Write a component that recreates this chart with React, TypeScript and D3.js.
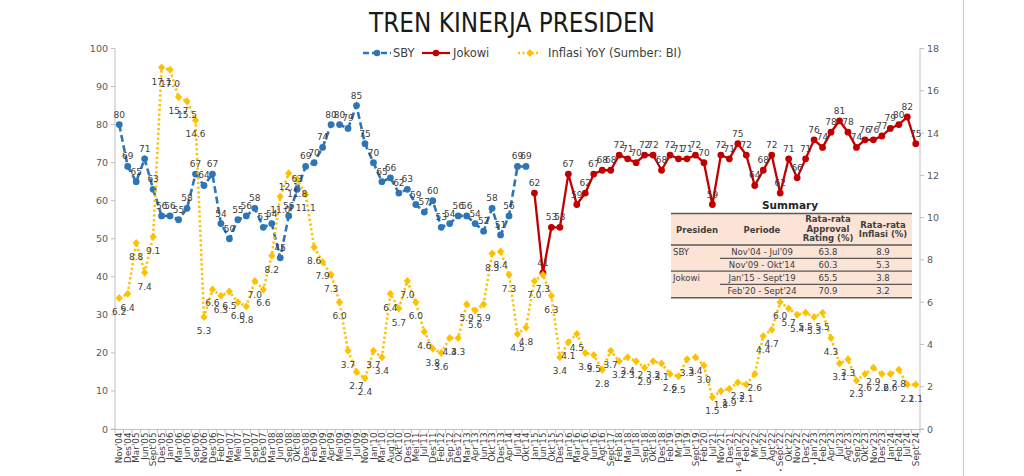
import React from 'react';
import * as d3 from 'd3';

const categories = [
  "Nov'04", "Des'04", "Mar'05", "Jun'05", "Sept'05", "Des'05", "Jan'06", "Mar'06", "Jun'06", "Sep'06",
  "Nov'06", "Des'06", "Feb'07", "Mar'07", "Mei'07", "Jun'07", "Sep'07", "Des'07", "Mar'08", "Jun'08",
  "Sep'08", "Okt'08", "Des'08", "Feb'09", "Mar'09", "Apr'09", "Mei'09", "Jun'09", "Jul'09", "Nov'09",
  "Jan'10", "Mar'10", "Aug'10", "Okt'10", "Des'10", "Mei'11", "Jul'11", "Des'11", "Feb'12", "Sep'12",
  "Des'12", "Mar'13", "Apr'13", "Jun'13", "Okt'13", "Des'13", "Apr'14", "Jul'14", "Okt'14", "Jan'15",
  "Jun'15", "Okt'15", "Des'15", "Jan'16", "Mar'16", "Apr'16", "Jun'16", "Agt'16", "Sept'17", "Feb'18",
  "Mar'18", "Jul'18", "Sep'18", "Okt'18", "Des'18", "Feb'19", "Mr'19", "Jul'19", "Sept'19", "Feb'20",
  "Jul'21", "Nov'21", "Des'21", "1-6 Jan'22", "Feb'22", "Mr'22", "Jun'22", "Agt'22", "• Sept'22", "Okt'22",
  "Nov'22", "Des'22", "• Jan'23", "Feb'23", "Apr'23", "Jul'23", "Agt'23", "Sep'23", "Okt'23", "Nov'23",
  "Des'23", "Jan'24", "Feb'24", "Jul'24", "Sept'24"
];

// SBY approval: Nov'04 .. Okt'14
const sbyApproval = [
  80, 69, 65, 71, 63, 56, 56, 55, 58, 67,
  64, 67, 54, 50, 55, 56, 58, 53, 54, 45,
  56, 63, 69, 70, 74, 80, 80, 79, 85, 75,
  70, 65, 66, 62, 63, 59, 57, 60, 53, 54,
  56, 56, 54, 52, 58, 51, 56, 69, 69
];

// Jokowi approval: Jan'15 .. Sept'24
const jokowiApproval = [
  62, 41, 53, 53, 67, 59, 62, 67, 68, 68,
  72, 71, 70, 72, 72, 68, 72, 71, 71, 72,
  70, 59, 72, 71, 75, 72, 64, 68, 72, 62,
  71, 66, 71, 76, 74, 78, 81, 78, 74, 76,
  76, 77, 79, 80, 82, 75
];

// Inflation YoY (%), all categories
const inflation = [
  6.2, 6.4, 8.8, 7.4, 9.1, 17.1, 17.0, 15.7, 15.5, 14.6,
  5.3, 6.6, 6.3, 6.5, 6.0, 5.8, 7.0, 6.6, 8.2, 11.0,
  12.1, 11.8, 11.1, 8.6, 7.9, 7.3, 6.0, 3.7, 2.7, 2.4,
  3.7, 3.4, 6.4, 5.7, 7.0, 6.0, 4.6, 3.8, 3.6, 4.3,
  4.3, 5.9, 5.6, 5.9, 8.3, 8.4, 7.3, 4.5, 4.8, 7.0,
  7.3, 6.3, 3.4, 4.1, 4.5, 3.6, 3.5, 2.8, 3.7, 3.2,
  3.4, 3.2, 2.9, 3.2, 3.1, 2.6, 2.5, 3.3, 3.4, 3.0,
  1.5, 1.8, 1.9, 2.2, 2.1, 2.6, 4.4, 4.7, 6.0, 5.7,
  5.4, 5.5, 5.3, 5.5, 4.3, 3.1, 3.3, 2.3, 2.6, 2.9,
  2.6, 2.6, 2.8, 2.1, 2.1
];

const leftTicks = [0, 10, 20, 30, 40, 50, 60, 70, 80, 90, 100];
const rightTicks = [0, 2, 4, 6, 8, 10, 12, 14, 16, 18];

const summaryHeaders = ["Presiden", "Periode", "Rata-rata|Approval|Rating (%)", "Rata-rata|Inflasi (%)"];
const summaryPresiden = ["SBY", "", "Jokowi", ""];
const summaryPeriode = ["Nov'04 - Jul'09", "Nov'09 - Okt'14", "Jan'15 - Sept'19", "Feb'20 - Sept'24"];
const summaryApproval = ["63.8", "60.3", "65.5", "70.9"];
const summaryInflasi = ["8.9", "5.3", "3.8", "3.2"];

const BLUE = '#2e75b6';
const RED = '#c00000';
const YELLOW = '#ffc000';
const LABEL = '#404040';
const AXIS = '#bfbfbf';
const FONT = '"DejaVu Sans", "Liberation Sans", sans-serif';

function XLabel({ text }: { text: string }) {
  const sp = text.indexOf(' ');
  if (sp < 0) return <>{text}</>;
  return (
    <>
      <tspan fontSize={6.5}>{text.slice(0, sp + 1)}</tspan>
      <tspan>{text.slice(sp + 1)}</tspan>
    </>
  );
}

export default function App() {
  const left = 115, right = 920, top = 48.5, bottom = 429;
  const x = d3.scaleBand<string>().domain(categories).range([left, right]).padding(0);
  const cx = (c: string) => (x(c) as number) + x.bandwidth() / 2;
  const yL = d3.scaleLinear().domain([0, 100]).range([bottom, top]);
  const yR = d3.scaleLinear().domain([0, 18]).range([bottom, top]);

  const sbyData = sbyApproval.map((v, i) => ({ c: categories[i], v }));
  const jokoData = jokowiApproval.map((v, i) => ({ c: categories[i + sbyApproval.length], v }));
  const infData = inflation.map((v, i) => ({ c: categories[i], v }));

  const lineL = d3.line<{ c: string; v: number }>().x(d => cx(d.c)).y(d => yL(d.v));
  const lineR = d3.line<{ c: string; v: number }>().x(d => cx(d.c)).y(d => yR(d.v));

  const diamond = 'M0,-4L3.6,0L0,4L-3.6,0Z';

  // table geometry
  const tL = 671, tR = 912, tTop = 213.5, tHead = 245;
  const rowLines = [245, 258.3, 271.2, 284.4, 297.7];
  const colX = [673, 762, 828, 883];

  return (
    <svg width={1024} height={476} style={{ position: 'absolute', left: 0, top: 0, background: '#fff' }}
      fontFamily={FONT}>
      <rect x={0} y={0} width={1024} height={476} fill="#fff" />
      <line x1={963.5} x2={963.5} y1={0} y2={476} stroke="#c8c8c8" strokeWidth={1} />

      {/* Title */}
      <text x={512} y={32} textAnchor="middle" fontSize={26} fill="#1a1a1a"
        textLength={286} lengthAdjust="spacingAndGlyphs">TREN KINERJA PRESIDEN</text>

      {/* Legend */}
      <g fontSize={11.5} fill={LABEL}>
        <line x1={363} x2={391} y1={53} y2={53} stroke={BLUE} strokeWidth={2.5} strokeDasharray="6,3" />
        <circle cx={377} cy={53} r={3.3} fill={BLUE} />
        <text x={393} y={57}>SBY</text>
        <line x1={422} x2={450} y1={53} y2={53} stroke={RED} strokeWidth={2.2} />
        <circle cx={436} cy={53} r={3.3} fill={RED} />
        <text x={453} y={57}>Jokowi</text>
        <line x1={518} x2={541} y1={53} y2={53} stroke={YELLOW} strokeWidth={2.5} strokeDasharray="2,2.5" />
        <path d={diamond} transform="translate(530,53)" fill={YELLOW} />
        <text x={548} y={57}>Inflasi YoY (Sumber: BI)</text>
      </g>

      {/* Axes */}
      <g stroke={AXIS} strokeWidth={1}>
        <line x1={left} x2={left} y1={top} y2={bottom} />
        <line x1={right} x2={right} y1={top} y2={bottom} />
        <line x1={left - 4} x2={right + 4} y1={bottom + 0.5} y2={bottom + 0.5} />
        {leftTicks.map(t => (
          <line key={'lt' + t} x1={left - 4} x2={left} y1={yL(t)} y2={yL(t)} />
        ))}
        {rightTicks.map(t => (
          <line key={'rt' + t} x1={right} x2={right + 4} y1={yR(t)} y2={yR(t)} />
        ))}
        {categories.map(c => (
          <line key={'xt' + c} x1={x(c) as number} x2={x(c) as number} y1={bottom} y2={bottom + 4} />
        ))}
        <line x1={right} x2={right} y1={bottom} y2={bottom + 4} />
      </g>
      <g fontSize={9.5} fill="#595959">
        {leftTicks.map(t => (
          <text key={'ll' + t} x={left - 7} y={yL(t) + 3.5} textAnchor="end">{t}</text>
        ))}
        {rightTicks.map(t => (
          <text key={'rl' + t} x={right + 7} y={yR(t) + 3.5} textAnchor="start">{t}</text>
        ))}
      </g>
      <g fontSize={8.8} fill={LABEL}>
        {categories.map(c => (
          <text key={'xl' + c} transform={`translate(${cx(c) + 3.2},${bottom + 3.5}) rotate(-90)`} textAnchor="end">
            <XLabel text={c} />
          </text>
        ))}
      </g>

      {/* SBY */}
      <path d={lineL(sbyData) || ''} fill="none" stroke={BLUE} strokeWidth={2.6} strokeDasharray="7,3.5" />
      {sbyData.map((d, i) => (
        <circle key={'sb' + i} cx={cx(d.c)} cy={yL(d.v)} r={3.4} fill={BLUE} />
      ))}

      {/* Jokowi */}
      <path d={lineL(jokoData) || ''} fill="none" stroke={RED} strokeWidth={2.3} />
      {jokoData.map((d, i) => (
        <circle key={'jk' + i} cx={cx(d.c)} cy={yL(d.v)} r={3.4} fill={RED} />
      ))}

      {/* Inflation */}
      <path d={lineR(infData) || ''} fill="none" stroke={YELLOW} strokeWidth={2.6} strokeDasharray="2.2,2.6" />
      {infData.map((d, i) => (
        <path key={'in' + i} d={diamond} transform={`translate(${cx(d.c)},${yR(d.v)})`} fill={YELLOW} />
      ))}

      {/* Data labels */}
      <g fontSize={9} fill={LABEL} textAnchor="middle">
        {sbyData.map((d, i) => (
          <text key={'sbl' + i} x={cx(d.c)} y={yL(d.v) - 7}>{d.v}</text>
        ))}
        {jokoData.map((d, i) => (
          <text key={'jkl' + i} x={cx(d.c)} y={yL(d.v) - 7}>{d.v}</text>
        ))}
        {infData.map((d, i) => (
          <text key={'inl' + i} x={cx(d.c)} y={yR(d.v) + 17}>{d.v.toFixed(1)}</text>
        ))}
      </g>

      {/* Summary table */}
      <text x={790} y={209} textAnchor="middle" fontSize={10.5} fontWeight="bold" fill="#262626">Summary</text>
      <rect x={tL} y={tTop} width={tR - tL} height={rowLines[4] - tTop} fill="#fbe3d6" />
      <g stroke="#595959">
        <line x1={tL} x2={tR} y1={tTop} y2={tTop} strokeWidth={1.6} />
        <line x1={tL} x2={tR} y1={tHead} y2={tHead} strokeWidth={1.6} />
        <line x1={720} x2={tR} y1={rowLines[1]} y2={rowLines[1]} strokeWidth={1.2} />
        <line x1={tL} x2={tR} y1={rowLines[2]} y2={rowLines[2]} strokeWidth={1.2} />
        <line x1={720} x2={tR} y1={rowLines[3]} y2={rowLines[3]} strokeWidth={1.2} />
        <line x1={tL} x2={tR} y1={rowLines[4]} y2={rowLines[4]} strokeWidth={1.6} />
      </g>
      <g fontSize={8.5} fontWeight="bold" fill="#404040" textAnchor="middle">
        <text x={697} y={232.5}>{summaryHeaders[0]}</text>
        <text x={colX[1]} y={232.5}>{summaryHeaders[1]}</text>
        {summaryHeaders[2].split('|').map((s, i) => (
          <text key={'h2' + i} x={colX[2]} y={222 + i * 9.6}>{s}</text>
        ))}
        {summaryHeaders[3].split('|').map((s, i) => (
          <text key={'h3' + i} x={colX[3]} y={227.5 + i * 9.6}>{s}</text>
        ))}
      </g>
      <g fontSize={8.5} fill="#404040">
        {summaryPeriode.map((p, i) => {
          const yy = (rowLines[i] + rowLines[i + 1]) / 2 + 3;
          return (
            <g key={'row' + i}>
              {summaryPresiden[i] && <text x={colX[0]} y={yy}>{summaryPresiden[i]}</text>}
              <text x={colX[1]} y={yy} textAnchor="middle">{p}</text>
              <text x={colX[2]} y={yy} textAnchor="middle">{summaryApproval[i]}</text>
              <text x={colX[3]} y={yy} textAnchor="middle">{summaryInflasi[i]}</text>
            </g>
          );
        })}
      </g>
    </svg>
  );
}
